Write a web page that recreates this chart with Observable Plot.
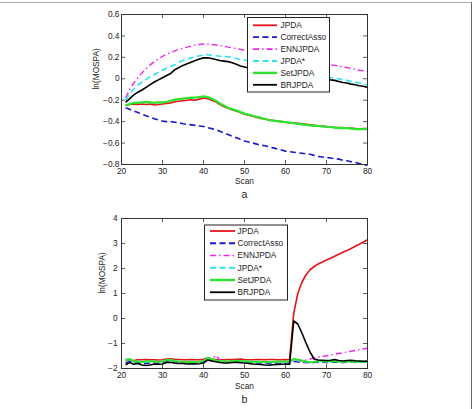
<!DOCTYPE html>
<html><head><meta charset="utf-8">
<script src="https://cdn.jsdelivr.net/npm/d3@7"></script>
<script src="https://cdn.jsdelivr.net/npm/@observablehq/plot@0.6"></script>
<style>
body{margin:0;background:#fff;}
#fig{position:relative;width:472px;height:409px;overflow:hidden;font-family:"Liberation Sans",Arial,sans-serif;}
#fig svg{display:block;}
.bt{position:absolute;left:0;top:2px;width:472px;height:1px;background:#aaa;}
.br{position:absolute;left:471px;top:2px;width:1px;height:407px;background:#666;}
</style></head><body><div id="fig"><div class="bt"></div><div class="br"></div></div>
<script>
const scans = [21,22,23,24,25,26,27,28,29,30,31,32,33,34,35,36,37,38,39,40,41,42,43,44,45,46,47,48,49,50,51,52,53,54,55,56,57,58,59,60,61,62,63,64,65,66,67,68,69,70,71,72,73,74,75,76,77,78,79,80];
const seriesNames = ["JPDA","CorrectAsso","ENNJPDA","JPDA*","SetJPDA","BRJPDA"];
const seriesColors = ["#e4141a","#1a1ac8","#f025f0","#2de3f0","#2de32d","#000000"];
const seriesDash = [null,"6,3.5","6,3,1.5,3","6,3.5",null,null];
const seriesWidth = [1.6,1.6,1.4,1.6,2.2,1.6];
const xTicks = [20,30,40,50,60,70,80];
const yTicksA = [-0.8,-0.6,-0.4,-0.2,0,0.2,0.4,0.6];
const yTicksB = [-2,-1,0,1,2,3,4];

// Panel a
const aJPDA = [-0.25,-0.24,-0.235,-0.24,-0.235,-0.24,-0.235,-0.245,-0.24,-0.235,-0.23,-0.225,-0.215,-0.21,-0.205,-0.2,-0.195,-0.2,-0.19,-0.18,-0.185,-0.2,-0.215,-0.24,-0.26,-0.275,-0.29,-0.3,-0.315,-0.33,-0.34,-0.35,-0.36,-0.37,-0.375,-0.385,-0.39,-0.395,-0.4,-0.405,-0.41,-0.41,-0.415,-0.42,-0.425,-0.43,-0.435,-0.44,-0.44,-0.445,-0.45,-0.455,-0.455,-0.455,-0.46,-0.46,-0.465,-0.47,-0.465,-0.465];
const aCorrect = [-0.27,-0.285,-0.3,-0.315,-0.33,-0.345,-0.36,-0.372,-0.385,-0.395,-0.4,-0.4,-0.405,-0.41,-0.42,-0.425,-0.43,-0.435,-0.44,-0.445,-0.455,-0.465,-0.475,-0.49,-0.505,-0.52,-0.535,-0.55,-0.565,-0.58,-0.59,-0.6,-0.61,-0.62,-0.625,-0.635,-0.645,-0.655,-0.665,-0.675,-0.68,-0.685,-0.69,-0.695,-0.7,-0.705,-0.715,-0.725,-0.73,-0.735,-0.74,-0.745,-0.75,-0.76,-0.765,-0.775,-0.78,-0.79,-0.8,-0.81];
const aENN = [-0.18,-0.1,-0.04,0.01,0.055,0.095,0.13,0.16,0.185,0.21,0.23,0.245,0.26,0.275,0.285,0.295,0.305,0.315,0.32,0.325,0.325,0.32,0.315,0.31,0.305,0.295,0.29,0.28,0.275,0.265,0.26,0.255,0.245,0.24,0.23,0.225,0.215,0.21,0.205,0.195,0.19,0.18,0.175,0.165,0.16,0.155,0.15,0.145,0.14,0.135,0.13,0.125,0.12,0.11,0.105,0.095,0.09,0.08,0.075,0.068];
const aJPDAstar = [-0.2,-0.14,-0.095,-0.06,-0.03,-0.005,0.02,0.04,0.06,0.08,0.1,0.115,0.13,0.155,0.17,0.185,0.195,0.205,0.215,0.222,0.225,0.22,0.215,0.21,0.21,0.205,0.2,0.19,0.18,0.175,0.165,0.16,0.15,0.14,0.135,0.125,0.115,0.11,0.1,0.09,0.085,0.075,0.065,0.06,0.05,0.045,0.035,0.03,0.02,0.015,0.01,0.005,0.0,-0.01,-0.015,-0.025,-0.03,-0.04,-0.05,-0.055];
const aSet = [-0.25,-0.235,-0.225,-0.225,-0.22,-0.215,-0.22,-0.225,-0.22,-0.22,-0.215,-0.205,-0.195,-0.19,-0.185,-0.18,-0.175,-0.175,-0.17,-0.165,-0.17,-0.185,-0.205,-0.23,-0.25,-0.27,-0.285,-0.295,-0.31,-0.325,-0.335,-0.345,-0.355,-0.365,-0.375,-0.385,-0.39,-0.395,-0.4,-0.405,-0.41,-0.415,-0.42,-0.425,-0.43,-0.435,-0.44,-0.44,-0.445,-0.45,-0.45,-0.455,-0.46,-0.46,-0.46,-0.465,-0.47,-0.47,-0.47,-0.47];
const aBR = [-0.22,-0.185,-0.15,-0.125,-0.105,-0.08,-0.055,-0.03,-0.01,0.01,0.03,0.05,0.085,0.105,0.125,0.14,0.155,0.17,0.185,0.195,0.197,0.19,0.18,0.17,0.165,0.16,0.15,0.135,0.12,0.11,0.1,0.095,0.09,0.085,0.078,0.07,0.065,0.06,0.055,0.05,0.045,0.04,0.035,0.03,0.025,0.02,0.015,0.01,0.005,0.0,-0.01,-0.015,-0.025,-0.035,-0.04,-0.05,-0.055,-0.065,-0.07,-0.08];

// Panel b
const bJPDA = [-1.65,-1.68,-1.68,-1.65,-1.65,-1.64,-1.65,-1.65,-1.66,-1.65,-1.62,-1.61,-1.63,-1.64,-1.65,-1.65,-1.64,-1.65,-1.65,-1.63,-1.58,-1.62,-1.64,-1.65,-1.65,-1.64,-1.64,-1.63,-1.62,-1.64,-1.65,-1.65,-1.64,-1.64,-1.65,-1.64,-1.64,-1.65,-1.65,-1.64,-1.65,0.2,1.0,1.45,1.75,1.95,2.08,2.18,2.26,2.34,2.41,2.49,2.57,2.65,2.72,2.8,2.89,2.97,3.06,3.15];
const bCorrect = [-1.78,-1.72,-1.78,-1.77,-1.8,-1.8,-1.78,-1.77,-1.78,-1.77,-1.71,-1.7,-1.74,-1.76,-1.77,-1.78,-1.77,-1.78,-1.77,-1.74,-1.62,-1.66,-1.7,-1.73,-1.75,-1.75,-1.73,-1.72,-1.74,-1.75,-1.76,-1.77,-1.77,-1.78,-1.79,-1.8,-1.79,-1.78,-1.78,-1.78,-1.78,-1.72,-1.74,-1.75,-1.76,-1.77,-1.76,-1.75,-1.75,-1.76,-1.75,-1.74,-1.75,-1.76,-1.75,-1.74,-1.75,-1.75,-1.74,-1.74];
const bENN = [-1.7,-1.66,-1.72,-1.72,-1.74,-1.73,-1.71,-1.72,-1.73,-1.72,-1.67,-1.66,-1.7,-1.72,-1.73,-1.74,-1.73,-1.74,-1.73,-1.7,-1.6,-1.6,-1.48,-1.66,-1.7,-1.71,-1.7,-1.69,-1.7,-1.71,-1.72,-1.73,-1.73,-1.74,-1.75,-1.75,-1.74,-1.73,-1.74,-1.73,-1.73,-1.68,-1.7,-1.7,-1.66,-1.62,-1.58,-1.55,-1.52,-1.49,-1.46,-1.43,-1.4,-1.37,-1.34,-1.31,-1.28,-1.25,-1.22,-1.19];
const bJPDAstar = [-1.63,-1.64,-1.72,-1.73,-1.75,-1.74,-1.72,-1.73,-1.74,-1.73,-1.67,-1.66,-1.71,-1.73,-1.74,-1.75,-1.74,-1.75,-1.74,-1.71,-1.58,-1.63,-1.69,-1.71,-1.73,-1.73,-1.71,-1.7,-1.71,-1.72,-1.73,-1.74,-1.74,-1.75,-1.76,-1.76,-1.75,-1.74,-1.75,-1.74,-1.74,-1.66,-1.68,-1.7,-1.73,-1.74,-1.73,-1.72,-1.72,-1.73,-1.73,-1.71,-1.73,-1.74,-1.73,-1.73,-1.74,-1.74,-1.73,-1.73];
const bSet = [-1.68,-1.62,-1.72,-1.72,-1.74,-1.72,-1.7,-1.72,-1.73,-1.72,-1.66,-1.65,-1.7,-1.72,-1.73,-1.74,-1.73,-1.74,-1.73,-1.7,-1.57,-1.62,-1.68,-1.7,-1.72,-1.72,-1.7,-1.69,-1.7,-1.71,-1.72,-1.73,-1.72,-1.73,-1.74,-1.74,-1.73,-1.72,-1.73,-1.72,-1.72,-1.62,-1.65,-1.68,-1.72,-1.75,-1.73,-1.7,-1.7,-1.72,-1.72,-1.7,-1.72,-1.73,-1.72,-1.72,-1.73,-1.73,-1.72,-1.72];
const bBR = [-1.85,-1.76,-1.83,-1.8,-1.86,-1.88,-1.86,-1.82,-1.83,-1.82,-1.76,-1.75,-1.79,-1.8,-1.8,-1.82,-1.81,-1.82,-1.81,-1.78,-1.66,-1.7,-1.73,-1.76,-1.78,-1.78,-1.76,-1.75,-1.77,-1.78,-1.8,-1.82,-1.83,-1.84,-1.86,-1.87,-1.85,-1.84,-1.83,-1.83,-1.83,-0.1,-0.22,-0.58,-0.98,-1.35,-1.62,-1.66,-1.67,-1.68,-1.67,-1.64,-1.68,-1.7,-1.68,-1.67,-1.69,-1.7,-1.71,-1.71];

const fmt = d => d < 0 ? "\u2212" + Math.abs(d) : String(d);

function makeChart(cfg) {
  const {series, yDomain, yTicks, height, marginTop, ylabelDx, yPad, scanDy, letter, letterDy, legend} = cfg;
  const W = 472, FW = 246, FH = 150;
  const marks = [];
  series.forEach((vals, i) => {
    const rows = scans.map((s, j) => ({s, v: vals[j]}));
    marks.push(Plot.line(rows, {x: "s", y: "v", stroke: seriesColors[i], strokeWidth: seriesWidth[i],
      strokeDasharray: seriesDash[i] || undefined, strokeLinejoin: "round", strokeLinecap: "butt"}));
  });
  marks.push(
    Plot.tickX(xTicks, {x: d => d, insetTop: FH - 4, stroke: "#333", strokeWidth: 0.8}),
    Plot.tickX(xTicks, {x: d => d, insetBottom: FH - 4, stroke: "#333", strokeWidth: 0.8}),
    Plot.tickY(yTicks, {y: d => d, insetRight: FW - 4, stroke: "#333", strokeWidth: 0.8}),
    Plot.tickY(yTicks, {y: d => d, insetLeft: FW - 4, stroke: "#333", strokeWidth: 0.8}),
    Plot.frame({stroke: "#333", strokeWidth: 1}),
    Plot.axisX({ticks: xTicks, tickSize: 0, tickPadding: 4, tickFormat: fmt, label: null, fill: "#222"}),
    Plot.axisY({ticks: yTicks, tickSize: 0, tickPadding: yPad, tickFormat: fmt, label: null, fill: "#222"}),
    Plot.text(["Scan"], {frameAnchor: "bottom", dy: scanDy, text: d => d, fill: "#222"}),
    Plot.text(["ln(MOSPA)"], {frameAnchor: "left", dx: ylabelDx, rotate: -90, text: d => d, fill: "#222"}),
    Plot.text([letter], {frameAnchor: "bottom", dy: letterDy, text: d => d, fontSize: 10.5, fill: "#222"})
  );
  const svg = Plot.plot({
    width: W, height, marginLeft: 121, marginRight: 105, marginTop, marginBottom: height - marginTop - FH,
    x: {domain: [20, 80]},
    y: {domain: yDomain},
    style: {fontFamily: "'Liberation Sans', Arial, sans-serif", fontSize: "8.3px", background: "transparent", color: "#222"},
    marks
  });
  // legend box (MATLAB style, white background over the lines)
  const g = d3.select(svg).append("g").attr("font-size", 8.3).attr("fill", "#222").attr("text-anchor", "start");
  g.append("rect").attr("x", legend.x).attr("y", legend.y).attr("width", legend.w).attr("height", legend.h)
    .attr("fill", "#fff").attr("stroke", "#222").attr("stroke-width", 1);
  seriesNames.forEach((n, i) => {
    const y = legend.y0 + i * legend.dy;
    g.append("line").attr("x1", legend.l0).attr("x2", legend.l1).attr("y1", y).attr("y2", y)
      .attr("stroke", seriesColors[i]).attr("stroke-width", seriesWidth[i] + 0.2)
      .attr("stroke-dasharray", seriesDash[i]);
    g.append("text").attr("x", legend.tx).attr("y", y).attr("dy", "0.35em").attr("text-anchor", "start").text(n);
  });
  return svg;
}

const fig = document.getElementById("fig");
fig.appendChild(makeChart({
  series: [aJPDA, aCorrect, aENN, aJPDAstar, aSet, aBR],
  yDomain: [-0.8, 0.6], yTicks: yTicksA, height: 205, marginTop: 14,
  ylabelDx: -25, yPad: 2, scanDy: 19, letter: "a", letterDy: 33,
  legend: {x: 247.5, y: 17.5, w: 82, h: 74.5, y0: 25.3, dy: 11.9, l0: 253, l1: 277, tx: 280.5}
}));
fig.appendChild(makeChart({
  series: [bJPDA, bCorrect, bENN, bJPDAstar, bSet, bBR],
  yDomain: [-2, 4], yTicks: yTicksB, height: 204, marginTop: 13,
  ylabelDx: -19.5, yPad: 4, scanDy: 20, letter: "b", letterDy: 34,
  legend: {x: 204.5, y: 20, w: 83, h: 75, y0: 26, dy: 12.25, l0: 210, l1: 235, tx: 237.5}
}));
</script></body></html>
